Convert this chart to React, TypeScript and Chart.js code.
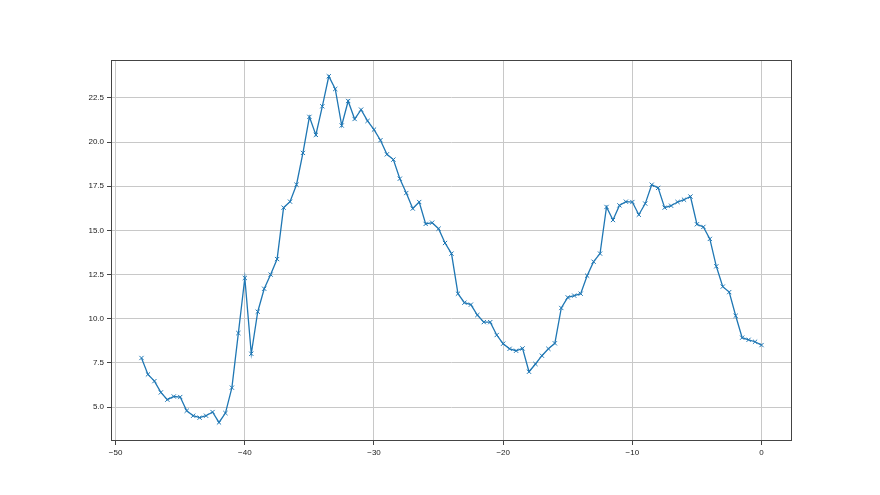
import React, { useEffect, useRef } from "react";
import { Chart, registerables } from "chart.js";

Chart.register(...registerables);

const xValues: number[] = [
  -48, -47.5, -47, -46.5, -46, -45.5, -45, -44.5, -44, -43.5,
  -43, -42.5, -42, -41.5, -41, -40.5, -40, -39.5, -39, -38.5,
  -38, -37.5, -37, -36.5, -36, -35.5, -35, -34.5, -34, -33.5,
  -33, -32.5, -32, -31.5, -31, -30.5, -30, -29.5, -29, -28.5,
  -28, -27.5, -27, -26.5, -26, -25.5, -25, -24.5, -24, -23.5,
  -23, -22.5, -22, -21.5, -21, -20.5, -20, -19.5, -19, -18.5,
  -18, -17.5, -17, -16.5, -16, -15.5, -15, -14.5, -14, -13.5,
  -13, -12.5, -12, -11.5, -11, -10.5, -10, -9.5, -9, -8.5,
  -8, -7.5, -7, -6.5, -6, -5.5, -5, -4.5, -4, -3.5,
  -3, -2.5, -2, -1.5, -1, -0.5, 0,
];

const yValues: number[] = [
  7.78, 6.85, 6.47, 5.83, 5.42, 5.6, 5.57, 4.79, 4.51, 4.4,
  4.51, 4.72, 4.13, 4.66, 6.1, 9.19, 12.31, 8.02, 10.4, 11.7,
  12.5, 13.38, 16.29, 16.63, 17.59, 19.39, 21.43, 20.41, 22.03, 23.73,
  23.01, 20.94, 22.33, 21.31, 21.84, 21.2, 20.71, 20.11, 19.31, 19.01,
  17.93, 17.12, 16.24, 16.61, 15.37, 15.44, 15.1, 14.29, 13.69, 11.42,
  10.91, 10.8, 10.21, 9.81, 9.81, 9.08, 8.59, 8.3, 8.19, 8.32,
  7.0, 7.44, 7.91, 8.3, 8.61, 10.61, 11.21, 11.31, 11.42, 12.44,
  13.23, 13.69, 16.33, 15.59, 16.42, 16.63, 16.61, 15.89, 16.52, 17.59,
  17.41, 16.29, 16.4, 16.61, 16.74, 16.92, 15.35, 15.2, 14.52, 12.97,
  11.82, 11.51, 10.17, 8.93, 8.81, 8.7, 8.51,
];

const xTicks: number[] = [-50, -40, -30, -20, -10, 0];
const yTicks: number[] = [5, 7.5, 10, 12.5, 15, 17.5, 20, 22.5];

const X_MIN = -50.36;
const X_MAX = 2.36;
const Y_MIN = 3.08;
const Y_MAX = 24.65;

const boxPlugin = {
  id: "boxFrame",
  afterDraw(chart: any) {
    const { ctx, chartArea } = chart;
    ctx.save();
    ctx.strokeStyle = "#444444";
    ctx.lineWidth = 1;
    ctx.strokeRect(
      Math.round(chartArea.left) + 0.5,
      Math.round(chartArea.top) + 0.5,
      Math.round(chartArea.right - chartArea.left) - 1,
      Math.round(chartArea.bottom - chartArea.top) - 1
    );
    ctx.restore();
  },
};

export default function App() {
  const canvasRef = useRef<HTMLCanvasElement | null>(null);

  useEffect(() => {
    if (!canvasRef.current) return;
    const font = { family: "'Liberation Sans', Arial, sans-serif", size: 8 };
    const chart = new Chart(canvasRef.current, {
      type: "line",
      data: {
        datasets: [
          {
            data: xValues.map((x, i) => ({ x, y: yValues[i] })),
            borderColor: "#1f77b4",
            backgroundColor: "#1f77b4",
            borderWidth: 1.3,
            pointStyle: "crossRot",
            pointRadius: 3,
            pointBorderWidth: 1,
            pointBorderColor: "#1f77b4",
            fill: false,
            tension: 0,
          },
        ],
      },
      options: {
        responsive: false,
        animation: false,
        devicePixelRatio: 1,
        layout: { padding: { left: 0, top: 60, right: 88, bottom: 0 } },
        plugins: {
          legend: { display: false },
          tooltip: { enabled: false },
        },
        scales: {
          x: {
            type: "linear",
            min: X_MIN,
            max: X_MAX,
            afterBuildTicks: (scale: any) => {
              scale.ticks = xTicks.map((v) => ({ value: v }));
            },
            afterFit: (scale: any) => {
              scale.height = 54;
            },
            ticks: {
              color: "#222222",
              font,
              padding: 3,
              maxRotation: 0,
              autoSkip: false,
              callback: (v: any) => (Number(v) < 0 ? "\u2212" + Math.abs(Number(v)) : String(v)),
            },
            grid: {
              color: "#c8c8c8",
              lineWidth: 1,
              tickColor: "#444444",
              tickLength: 4,
            },
            border: { display: false },
          },
          y: {
            type: "linear",
            min: Y_MIN,
            max: Y_MAX,
            afterBuildTicks: (scale: any) => {
              scale.ticks = yTicks.map((v) => ({ value: v }));
            },
            afterFit: (scale: any) => {
              scale.width = 111;
            },
            ticks: {
              color: "#222222",
              font,
              padding: 3,
              autoSkip: false,
              callback: (v: any) => Number(v).toFixed(1),
            },
            grid: {
              color: "#c8c8c8",
              lineWidth: 1,
              tickColor: "#444444",
              tickLength: 4,
            },
            border: { display: false },
          },
        },
      },
      plugins: [boxPlugin],
    } as any);
    return () => chart.destroy();
  }, []);

  return (
    <div
      style={{
        position: "fixed",
        left: 0,
        top: 0,
        width: 880,
        height: 495,
        background: "#ffffff",
      }}
    >
      <canvas ref={canvasRef} width={880} height={495} style={{ display: "block" }} />
    </div>
  );
}
